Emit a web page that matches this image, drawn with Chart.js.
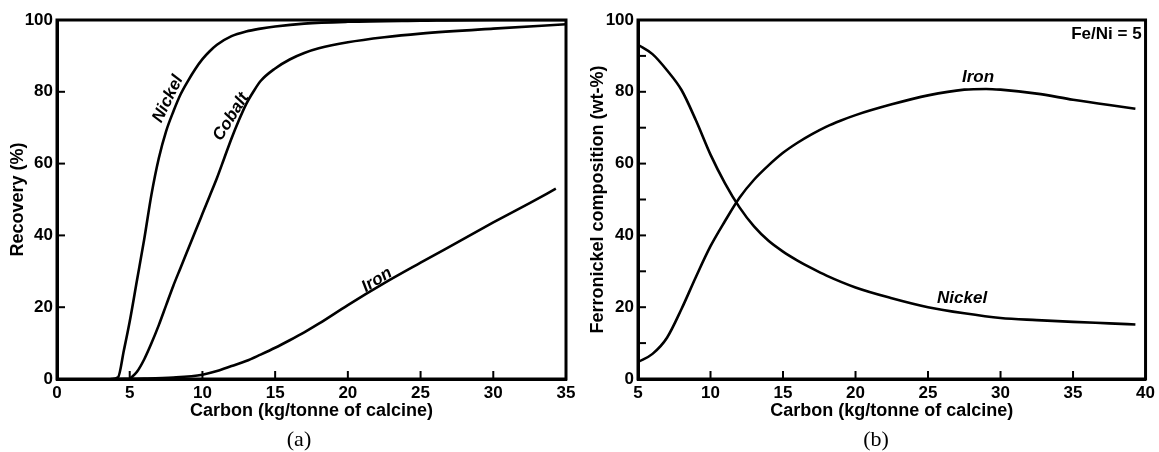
<!DOCTYPE html>
<html>
<head>
<meta charset="utf-8">
<script src="https://cdn.jsdelivr.net/npm/chart.js@4/dist/chart.umd.min.js"></script>
<style>
  html, body { margin: 0; padding: 0; background: #fff; }
  #wrap { position: relative; width: 1159px; height: 452px; overflow: hidden; }
  canvas { position: absolute; top: 0; }
  .cap { position: absolute; top: 426px; font-family: "Liberation Serif", "Times New Roman", serif; font-size: 22px; color: #000; transform: translateX(-50%); white-space: nowrap; }
</style>
</head>
<body>
<div id="wrap">
  <canvas id="ca" width="580" height="452" style="left:0px"></canvas>
  <canvas id="cb" width="579" height="452" style="left:580px"></canvas>
  <div class="cap" style="left:299px">(a)</div>
  <div class="cap" style="left:876px">(b)</div>
</div>
<script>
// ---------- (a) Recovery vs carbon ----------
const nickelA_x = [3.7, 4.2, 4.6, 5.0, 5.5, 6.0, 6.5, 7.0, 7.5, 8.0, 8.5, 9.0, 9.5, 10.0, 10.5, 11.0, 12.0, 13.0, 14.0, 15.0, 17.0, 20.0, 25.0, 30.0, 35.0];
const nickelA_y = [0, 0.5, 8, 16, 27.5, 39, 51.5, 61.5, 69, 74.5, 79.3, 83, 86.3, 89.1, 91.3, 93.1, 95.5, 96.8, 97.6, 98.2, 99, 99.5, 99.8, 100, 100];
const cobaltA_x = [5.0, 5.5, 6.0, 6.5, 7.0, 7.5, 8.0, 8.5, 9.0, 9.5, 10.0, 10.5, 11.0, 11.5, 12.0, 12.5, 13.0, 13.5, 14.0, 15.0, 16.0, 17.0, 18.0, 20.0, 22.5, 25.0, 30.0, 35.0];
const cobaltA_y = [0, 2, 5.5, 10, 15, 20.5, 26, 31, 36, 41, 46, 51, 56, 61.5, 67, 72, 76.5, 80, 83, 86.5, 89, 90.8, 92.1, 93.8, 95.2, 96.2, 97.6, 98.8];
const ironA_x = [4.0, 6.0, 8.0, 10.0, 11.0, 12.0, 13.0, 14.0, 15.0, 16.0, 17.0, 18.0, 20.0, 22.5, 25.0, 27.5, 30.0, 32.5, 34.3];
const ironA_y = [0, 0.1, 0.4, 1.2, 2.2, 3.6, 5.0, 6.8, 8.7, 10.8, 13.0, 15.4, 20.6, 26.7, 32.4, 38.0, 43.6, 49.0, 53.0];
const xTicksA = [0, 5, 10, 15, 20, 25, 30, 35];
const yTicksA = [0, 20, 40, 60, 80, 100];

// ---------- (b) Ferronickel composition vs carbon ----------
const nickelB_x = [5, 6, 7, 8, 9, 10, 11, 12, 13, 14, 15, 16, 17, 18, 20, 22.5, 25, 27.5, 30, 32.5, 35, 37.5, 39.3];
const nickelB_y = [93.1, 90.5, 86, 80.5, 72, 62.5, 54.5, 47.8, 42.5, 38.5, 35.5, 33, 30.8, 28.8, 25.5, 22.5, 20, 18.3, 17, 16.4, 15.9, 15.5, 15.2];
const ironB_x = [5, 6, 7, 8, 9, 10, 11, 12, 13, 14, 15, 16, 17, 18, 19, 20, 22.5, 25, 27.5, 29, 30, 32.5, 35, 37.5, 39.3];
const ironB_y = [4.7, 7, 11.5, 19.5, 28.5, 37, 44, 50.5, 55.5, 59.5, 63, 65.8, 68.2, 70.3, 72, 73.5, 76.5, 79, 80.6, 80.8, 80.6, 79.5, 77.8, 76.3, 75.3];
const xTicksB = [5, 10, 15, 20, 25, 30, 35, 40];
const yTicksB = [0, 20, 40, 60, 80, 100];

const FONT = '"Liberation Sans", Arial, Helvetica, sans-serif';

function pts(xs, ys) { return xs.map((x, i) => ({ x: x, y: ys[i] })); }

function ds(xs, ys) {
  return {
    data: pts(xs, ys),
    borderColor: '#000',
    borderWidth: 2.6,
    pointRadius: 0,
    fill: false,
    showLine: true,
    tension: 0.4,
    cubicInterpolationMode: 'monotone'
  };
}

const decor = {
  id: 'decor',
  afterDraw(chart, args, opts) {
    const { ctx, chartArea: a, scales: { x, y } } = chart;
    ctx.save();
    ctx.strokeStyle = '#000';
    ctx.lineWidth = 3;
    ctx.strokeRect(a.left, a.top, a.right - a.left, a.bottom - a.top);
    ctx.lineWidth = 2;
    (opts.xTicks || []).forEach(v => {
      const px = x.getPixelForValue(v);
      ctx.beginPath(); ctx.moveTo(px, a.bottom); ctx.lineTo(px, a.bottom - 8); ctx.stroke();
    });
    (opts.yTicks || []).forEach(v => {
      const py = y.getPixelForValue(v);
      ctx.beginPath(); ctx.moveTo(a.left, py); ctx.lineTo(a.left + 8, py); ctx.stroke();
    });
    ctx.fillStyle = '#000';
    (opts.labels || []).forEach(l => {
      ctx.save();
      ctx.translate(x.getPixelForValue(l.x), y.getPixelForValue(l.y));
      ctx.rotate((l.rot || 0) * Math.PI / 180);
      ctx.font = (l.italic ? 'italic ' : '') + 'bold 17px ' + FONT;
      ctx.textAlign = l.align || 'center';
      ctx.textBaseline = 'middle';
      ctx.fillText(l.text, 0, 0);
      ctx.restore();
    });
    ctx.restore();
  }
};

function makeOpts(cfg) {
  return {
    responsive: false,
    animation: false,
    events: [],
    layout: { padding: { left: 0, right: cfg.padRight, top: 20, bottom: 0 } },
    plugins: {
      legend: { display: false },
      tooltip: { enabled: false },
      decor: { xTicks: cfg.xInner, yTicks: cfg.yInner, labels: cfg.labels }
    },
    scales: {
      x: {
        type: 'linear',
        min: cfg.xMin, max: cfg.xMax,
        afterBuildTicks: (s) => { s.ticks = cfg.xTicks.map(v => ({ value: v })); },
        afterFit: (s) => { s.height = 73; },
        grid: { display: false, drawTicks: false },
        border: { display: true, color: '#000', width: 3 },
        ticks: { color: '#000', padding: 4, maxRotation: 0, autoSkip: false, font: { family: FONT, size: 17, weight: 'bold' } },
        title: { display: true, text: 'Carbon (kg/tonne of calcine)', color: '#000', padding: { top: 0, bottom: 30 }, font: { family: FONT, size: 18, weight: 'bold' } }
      },
      y: {
        type: 'linear',
        min: 0, max: 100,
        afterBuildTicks: (s) => { s.ticks = cfg.yTicks.map(v => ({ value: v })); },
        afterFit: (s) => { s.width = cfg.yWidth; },
        grid: { display: false, drawTicks: false },
        border: { display: true, color: '#000', width: 3 },
        ticks: { color: '#000', padding: 4, autoSkip: false, font: { family: FONT, size: 17, weight: 'bold' } },
        title: { display: true, text: cfg.yTitle, color: '#000', padding: { top: 7, bottom: 0 }, font: { family: FONT, size: 18, weight: 'bold' } }
      }
    }
  };
}

new Chart(document.getElementById('ca'), {
  type: 'scatter',
  data: { datasets: [ds(nickelA_x, nickelA_y), ds(cobaltA_x, cobaltA_y), ds(ironA_x, ironA_y)] },
  options: makeOpts({
    xMin: 0, xMax: 35, xTicks: xTicksA, yTicks: yTicksA,
    xInner: [5, 10, 15, 20, 25, 30], yInner: [20, 40, 60, 80],
    yWidth: 57, padRight: 14, yTitle: 'Recovery (%)',
    labels: [
      { text: 'Nickel', x: 7.63, y: 78, rot: -64, italic: true },
      { text: 'Cobalt', x: 11.97, y: 73, rot: -58, italic: true },
      { text: 'Iron', x: 22.0, y: 27.6, rot: -32, italic: true }
    ]
  }),
  plugins: [decor]
});

new Chart(document.getElementById('cb'), {
  type: 'scatter',
  data: { datasets: [ds(nickelB_x, nickelB_y), ds(ironB_x, ironB_y)] },
  options: makeOpts({
    xMin: 5, xMax: 40, xTicks: xTicksB, yTicks: yTicksB,
    xInner: [10, 15, 20, 25, 30, 35], yInner: [10, 20, 30, 40, 50, 60, 70, 80, 90],
    yWidth: 58, padRight: 11, yTitle: 'Ferronickel composition (wt-%)',
    labels: [
      { text: 'Iron', x: 28.45, y: 84.0, rot: 0, italic: true },
      { text: 'Nickel', x: 27.35, y: 22.5, rot: 0, italic: true },
      { text: 'Fe/Ni = 5', x: 39.73, y: 95.9, rot: 0, italic: false, align: 'right' }
    ]
  }),
  plugins: [decor]
});
</script>
</body>
</html>
